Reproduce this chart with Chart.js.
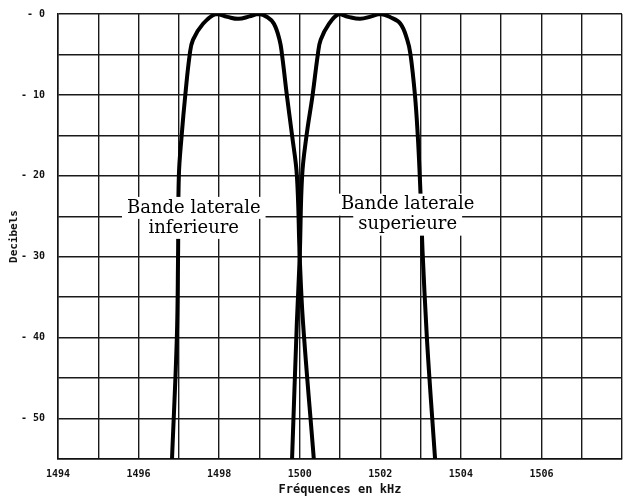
<!DOCTYPE html>
<html>
<head>
<meta charset="utf-8">
<script src="https://cdn.jsdelivr.net/npm/chart.js@4/dist/chart.umd.min.js"></script>
<style>
html,body{margin:0;padding:0;background:#fff;}
#wrap{width:623px;height:497px;position:relative;}
</style>
</head>
<body>
<div id="wrap"><canvas id="c" width="623" height="497"></canvas></div>
<script>
// Lower sideband (Bande laterale inferieure)
const lowerFreq = [1496.83,1496.95,1496.98,1497.00,1497.07,1497.16,1497.27,1497.35,1497.60,1497.92,1498.20,1498.48,1498.75,1498.98,1499.20,1499.36,1499.50,1499.56,1499.68,1499.81,1499.93,1500.00,1500.08,1500.35];
const lowerDb   = [-55,-40,-30,-20,-15,-10,-5,-3.2,-1.2,0,-0.35,-0.6,-0.3,0,-0.4,-1.2,-3.2,-5,-10,-15,-20,-30,-38,-55];
// Upper sideband (Bande laterale superieure)
const upperFreq = [1499.81,1499.93,1500.00,1500.06,1500.17,1500.32,1500.45,1500.52,1500.73,1500.97,1501.20,1501.50,1501.78,1502.00,1502.25,1502.50,1502.67,1502.75,1502.86,1502.93,1502.98,1503.02,1503.05,1503.15,1503.22,1503.29,1503.36];
const upperDb   = [-55,-38,-30,-20,-15,-10,-5,-3.2,-1.2,0,-0.35,-0.6,-0.3,0,-0.4,-1.2,-3.2,-5,-10,-15,-20,-25,-29.4,-39.4,-45,-50,-55];
// Axis ticks
const xLabelTicks = [1494,1496,1498,1500,1502,1504,1506];
const yLabelTicks = [0,-10,-20,-30,-40,-50];
// Annotation labels
const labelText = [["Bande laterale","inferieure"],["Bande laterale","superieure"]];
const labelFreq = [1497.37,1502.68];
const labelDb = [-25.2,-24.8];

const toPts = (xs, ys) => xs.map((x, i) => ({x: x, y: ys[i]}));

const labelPlugin = {
  id: 'sbLabels',
  afterDatasetsDraw(chart) {
    const ctx = chart.ctx;
    const xs = chart.scales.x, ys = chart.scales.y;
    ctx.save();
    ctx.font = '18px "DejaVu Serif"';
    ctx.textAlign = 'center';
    ctx.textBaseline = 'middle';
    const lh = 20;
    labelText.forEach((lines, k) => {
      const cx = xs.getPixelForValue(labelFreq[k]);
      const cy = ys.getPixelForValue(labelDb[k]);
      lines.forEach((t, j) => {
        const y = cy + (j - (lines.length - 1) / 2) * lh;
        const w = ctx.measureText(t).width;
        ctx.fillStyle = '#fff';
        ctx.fillRect(cx - w / 2 - 5, y - lh / 2 - 1, w + 10, lh + 2);
      });
      lines.forEach((t, j) => {
        const y = cy + (j - (lines.length - 1) / 2) * lh;
        ctx.fillStyle = '#000';
        ctx.fillText(t, cx, y);
      });
    });
    ctx.restore();
  }
};

const tickFont = {family: '"DejaVu Sans Mono"', size: 10, weight: 'bold'};

new Chart(document.getElementById('c'), {
  type: 'scatter',
  data: {
    datasets: [
      {label: 'inferieure', data: toPts(lowerFreq, lowerDb), showLine: true, borderColor: '#000', borderWidth: 4, pointRadius: 0, tension: 0.4, fill: false},
      {label: 'superieure', data: toPts(upperFreq, upperDb), showLine: true, borderColor: '#000', borderWidth: 4, pointRadius: 0, tension: 0.4, fill: false}
    ]
  },
  options: {
    responsive: false,
    animation: false,
    layout: {padding: {top: 14, right: 1, bottom: 0, left: 0}},
    plugins: {legend: {display: false}, tooltip: {enabled: false}},
    scales: {
      x: {
        type: 'linear', min: 1494, max: 1508,
        afterFit: s => { s.height = 38; s.paddingLeft = 0; s.paddingRight = 0; },
        border: {display: true, color: '#111', width: 1.5},
        grid: {color: '#1a1a1a', lineWidth: 1.4, drawTicks: false},
        ticks: {
          stepSize: 1, padding: 9, color: '#111', font: tickFont, maxRotation: 0, autoSkip: false,
          callback: v => xLabelTicks.includes(v) ? String(v) : ''
        },
        title: {display: true, text: 'Fréquences en kHz', color: '#111', font: {family: '"DejaVu Sans Mono"', size: 12, weight: 'bold'}, padding: {top: 0, bottom: 0}}
      },
      y: {
        type: 'linear', min: -55, max: 0,
        afterFit: s => { s.width = 58; s.paddingTop = 0; s.paddingBottom = 0; },
        border: {display: true, color: '#111', width: 1.5},
        grid: {color: '#1a1a1a', lineWidth: 1.4, drawTicks: false},
        ticks: {
          stepSize: 5, padding: 13, color: '#111', font: tickFont, autoSkip: false,
          callback: v => yLabelTicks.includes(v) ? '- ' + Math.abs(v) : ''
        },
        title: {display: true, text: 'Decibels', color: '#111', font: {family: '"DejaVu Sans Mono"', size: 11, weight: 'bold'}, padding: {top: 8, bottom: 0}}
      }
    }
  },
  plugins: [labelPlugin]
});
</script>
</body>
</html>
